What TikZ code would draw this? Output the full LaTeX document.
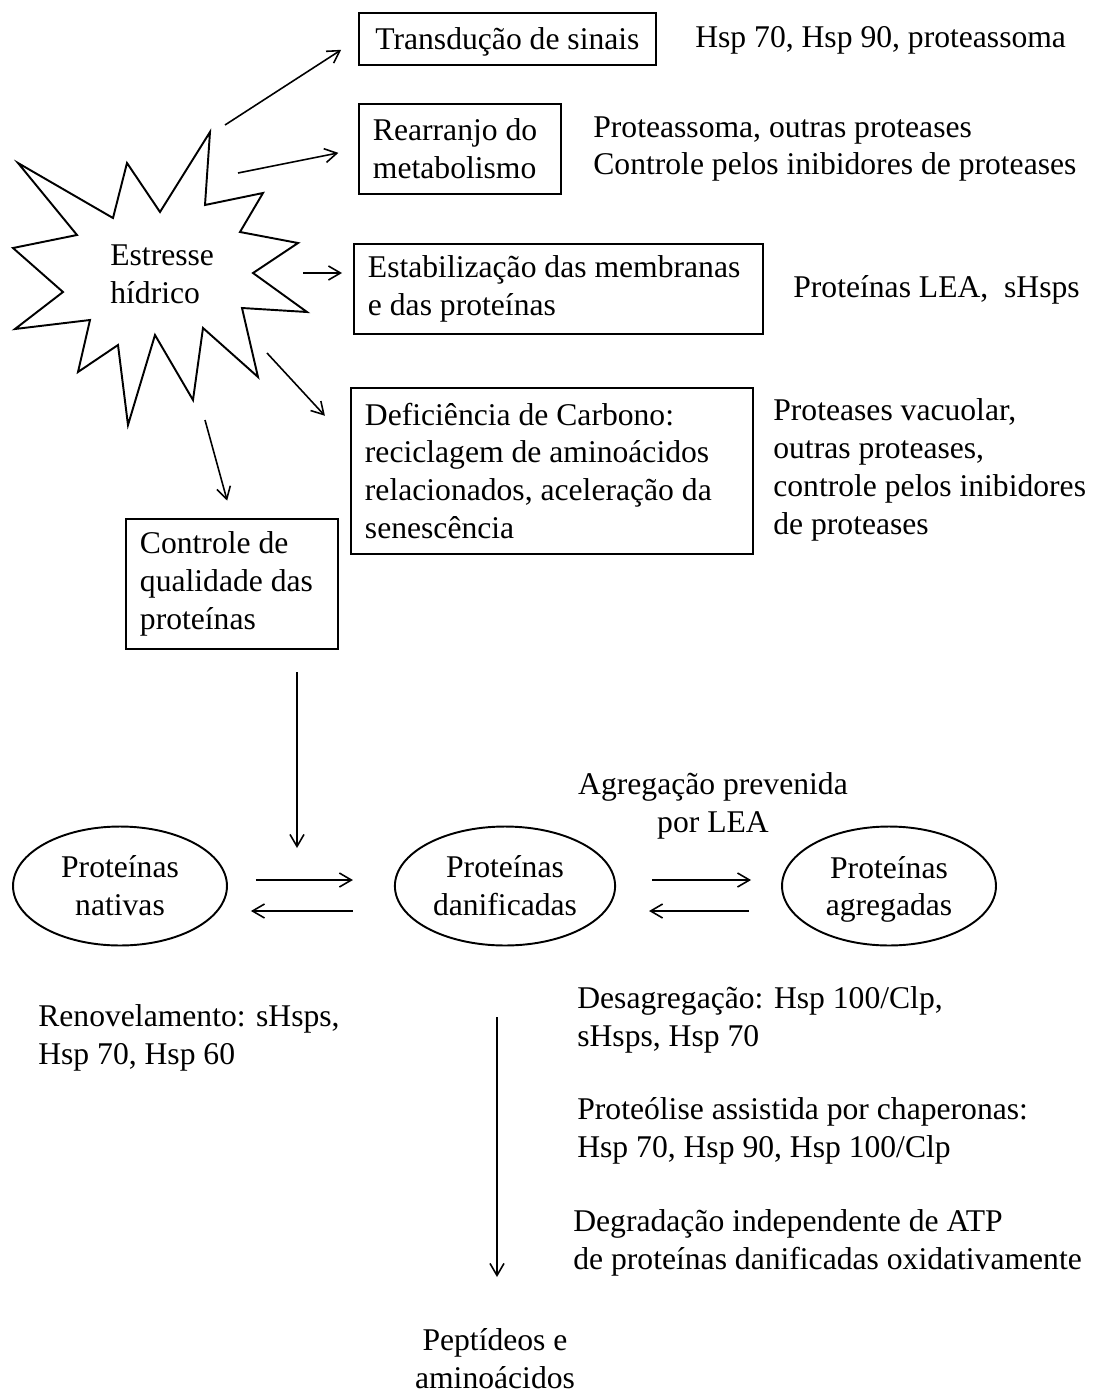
\documentclass[tikz,border=0pt]{standalone}
\usepackage{fontspec}
\setmainfont{Liberation Serif}
\usepackage{tikz}
\usetikzlibrary{shapes.geometric, arrows.meta, calc}
\tikzset{
    >={Straight Barb[length=0.24cm, width=0.28cm]}, % open arrow heads
    box/.style={draw, line width=1.1pt, align=flush left, inner xsep=0.28cm, inner ysep=0pt, anchor=north west}, % rectangular boxes
    blob/.style={draw, ellipse, line width=1.1pt, align=center, minimum width=4.28cm, minimum height=2.38cm}, % protein states
    txt/.style={align=flush left, anchor=west, inner sep=0pt}, % plain labels
    arr/.style={->, line width=0.9pt}, % connectors
}

\begin{document}
\begin{tikzpicture}[x=0.02cm, y=-0.02cm, font=\fontsize{18}{21.6}\selectfont]
    \useasboundingbox (0,0) rectangle (1103,1396);

    % the star
    \draw[line width=1.1pt, line join=miter] (18,163) -- (77,235) -- (13,248) -- (63,292) -- (15,329) -- (90,320)
        -- (78,372) -- (118,345) -- (128,425) -- (155,335) -- (193,400) -- (203,328) -- (258,377)
        -- (242,308) -- (307,312) -- (253,273) -- (298,243) -- (240,232) -- (263,193) -- (205,205)
        -- (210,132) -- (160,212) -- (127,163) -- (113,218) -- cycle;
    \node[txt] (stress) at (110,274) {Estresse\\hídrico};

    % boxes
    \node[box, align=center, minimum width=5.94cm, minimum height=1.04cm, text depth=0pt] (trans) at (358,12) {Transdução de sinais};
    \node[box, text width=3.48cm, minimum height=1.8cm] (rearr) at (358,103) {Rearranjo do\\metabolismo};
    \node[box, text width=7.62cm, minimum height=1.8cm] (estab) at (353,243) {Estabilização das membranas\\e das proteínas};
    \node[box, text width=7.48cm, minimum height=3.32cm] (defic) at (350,387) {Deficiência de Carbono:\\reciclagem de aminoácidos\\relacionados, aceleração da\\senescência};
    \node[box, text width=3.68cm, minimum height=2.6cm] (ctrl) at (125,518) {Controle de\\qualidade das\\proteínas};

    % side labels
    \node[txt] (hsp) at (695,40) {Hsp 70, Hsp 90, proteassoma};
    \node[txt] (prot) at (593,149) {Proteassoma, outras proteases\\Controle pelos inibidores de proteases};
    \node[txt] (lea) at (793,290) {Proteínas LEA,\ \ sHsps};
    \node[txt] (vac) at (773,470) {Proteases vacuolar,\\outras proteases,\\controle pelos inibidores\\de proteases};

    % protein states
    \node[blob] (nat) at (120,886) {Proteínas\\nativas};
    \node[blob] (dan) at (505,886) {Proteínas\\danificadas};
    \node[blob, text depth=0pt] (agr) at (889,886) {Proteínas\\agregadas};

    \node[align=center, inner sep=0pt] (prev) at (713,806) {Agregação prevenida\\por LEA};
    \node[txt] (renov) at (38,1038) {Renovelamento: sHsps,\\Hsp 70, Hsp 60};
    \node[txt] (desag) at (577,1020) {Desagregação: Hsp 100/Clp,\\sHsps, Hsp 70};
    \node[txt] (chap) at (577,1131) {Proteólise assistida por chaperonas:\\Hsp 70, Hsp 90, Hsp 100/Clp};
    \node[txt] (atp) at (573,1243) {Degradação independente de ATP\\de proteínas danificadas oxidativamente};
    \node[align=center, inner sep=0pt] (pep) at (495,1359) {Peptídeos e\\aminoácidos};

    % free ends
    \coordinate (s1) at (225,125);
    \coordinate (s2) at (238,173);
    \coordinate (s3) at (303,273);
    \coordinate (s4) at (267,353);
    \coordinate (s5) at (205,420);
    \coordinate (s6) at (297,672);
    \coordinate (e6) at (297,848);
    \coordinate (s7) at (497,1017);
    \coordinate (e7) at (497,1277);

    \draw[arr, shorten >=0.4cm] (s1) -- (trans.west);
    \draw[arr, shorten >=0.4cm] (s2) -- (rearr.west);
    \draw[arr, shorten >=0.22cm] (s3) -- (s3 -| estab.west);
    \draw[arr, shorten >=0.74cm] (s4) -- ([yshift=0.56cm]defic.west);
    \draw[arr, shorten >=0.36cm] (s5) -- (ctrl.north);
    \draw[arr] (s6) -- (e6);
    \draw[arr] (s7) -- (e7);

    \draw[arr, shorten <=0.56cm, shorten >=0.82cm] ([yshift=0.12cm]nat.east) -- ([yshift=0.12cm]dan.west);
    \draw[arr, shorten <=0.82cm, shorten >=0.46cm] ([yshift=-0.5cm]dan.west) -- ([yshift=-0.5cm]nat.east);
    \draw[arr, shorten <=0.72cm, shorten >=0.6cm] ([yshift=0.12cm]dan.east) -- ([yshift=0.12cm]agr.west);
    \draw[arr, shorten <=0.64cm, shorten >=0.66cm] ([yshift=-0.5cm]agr.west) -- ([yshift=-0.5cm]dan.east);
\end{tikzpicture}
\end{document}
